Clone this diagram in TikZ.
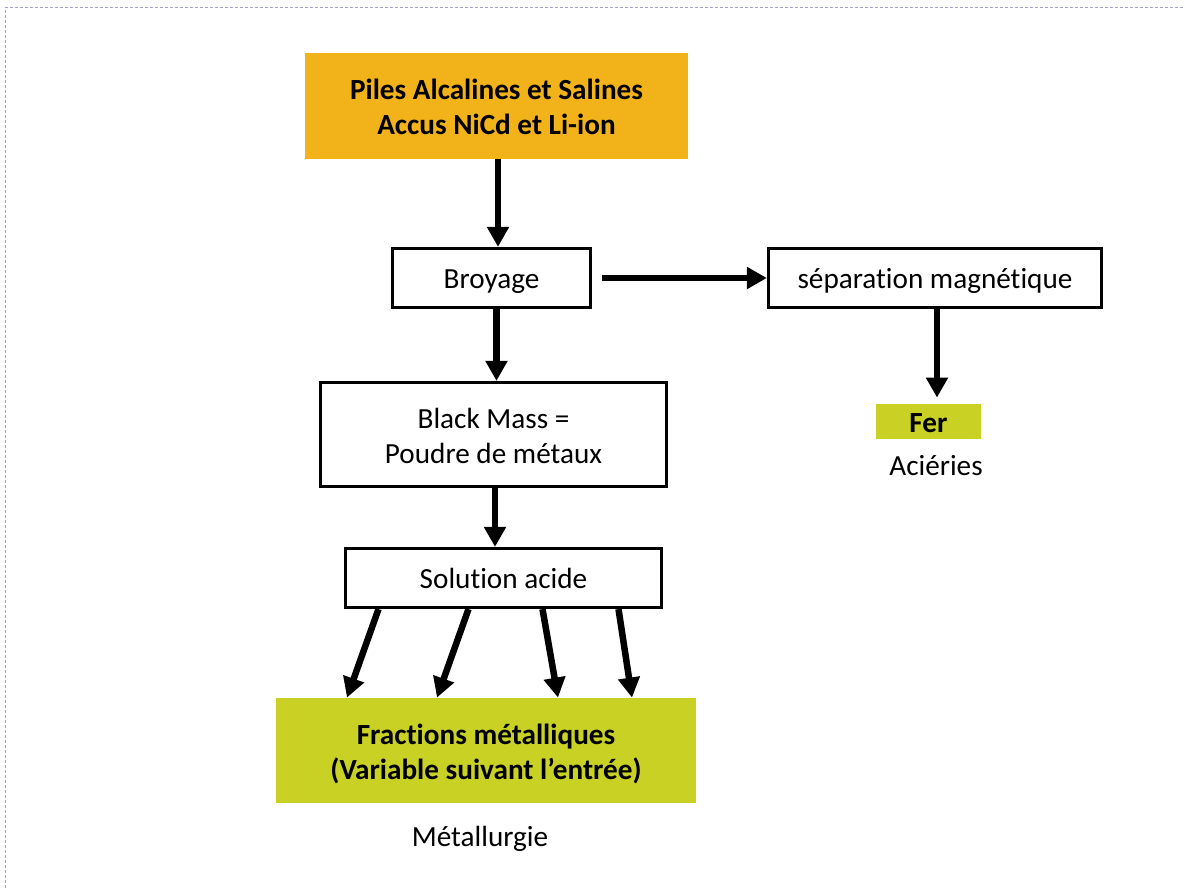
\documentclass[tikz,border=0pt]{standalone}
\usepackage{fontspec}
\setmainfont{Carlito}[Ligatures={NoCommon,NoContextual}]
\usetikzlibrary{arrows.meta}
\definecolor{pileorange}{RGB}{242,179,26}
\definecolor{fergreen}{RGB}{200,209,36}
\definecolor{framelilac}{RGB}{160,160,215}

\begin{document}
\begin{tikzpicture}[x=0.5pt,y=-0.5pt]

                    \tikzset{box/.style = {shape=rectangle,draw,line width=1.6pt,inner sep=0pt,align=center,font=\fontsize{14.6}{17.5}\selectfont}}
                    \tikzset{fillbox/.style = {shape=rectangle,inner sep=0pt,align=center,font=\fontsize{14.6}{17.5}\selectfont\bfseries}}
                    \tikzset{oneline/.style = {text height=12.25pt,text depth=1.75pt}}
                    \tikzset{twolines/.style = {text height=29.5pt,text depth=1pt}}
                    \tikzset{plain/.style = {inner sep=0pt,anchor=base,font=\fontsize{14.6}{17.5}\selectfont}}
                    \tikzset{edge/.style = {-{Triangle[length=10pt,width=10.5pt]},line width=3.25pt}}
                    \useasboundingbox (0,0) rectangle (1185,888);
                    \draw[framelilac,line width=0.5pt,dash pattern=on 1.5pt off 1pt] (5,888) -- (5,8) -- (1185,8);

                    \node[fillbox,twolines,fill=pileorange,minimum width=191.5pt,minimum height=53pt] (piles) at (496.5,106) {Piles Alcalines et Salines\\Accus NiCd et Li-ion};
                    \node[box,oneline,minimum width=99pt,minimum height=29.5pt] (broyage) at (491.5,278) {Broyage};
                    \node[box,oneline,minimum width=166.5pt,minimum height=29.5pt] (sep) at (935,278) {séparation magnétique};
                    \node[fillbox,oneline,fill=fergreen,minimum width=52.5pt,minimum height=17.5pt] (fer) at (928.5,421.5) {Fer};
                    \node[plain] (acieries) at (936,475) {Aciéries};
                    \node[box,twolines,minimum width=173pt,minimum height=52pt] (black) at (493.5,434.5) {Black Mass =\\Poudre de métaux};
                    \node[box,oneline,minimum width=158pt,minimum height=29.5pt] (solution) at (503.5,578) {Solution acide};
                    \node[fillbox,twolines,fill=fergreen,minimum width=210pt,minimum height=52.5pt] (fractions) at (486,750.5) {Fractions métalliques\\(Variable suivant l’entrée)};
                    \node[plain] (metal) at (480,846) {Métallurgie};

                    \draw[edge] ([xshift=0.75pt]piles.south) to ([xshift=0.75pt]piles.south |- broyage.north);
                    \draw[edge] ([xshift=5pt]broyage.east) to (sep.west);
                    \draw[edge] ([xshift=1pt]sep.south) to ([xshift=1pt,yshift=3pt]sep.south |- fer.north);
                    \draw[edge] ([xshift=2.5pt]broyage.south) to ([xshift=2.5pt]broyage.south |- black.north);
                    \draw[edge] ([xshift=0.75pt]black.south) to ([xshift=0.75pt]black.south |- solution.north);
                    \draw[edge] ([xshift=-62.5pt]solution.south) to ([xshift=-69.5pt]fractions.north);
                    \draw[edge] ([xshift=-17.5pt]solution.south) to ([xshift=-24.5pt]fractions.north);
                    \draw[edge] ([xshift=19.5pt]solution.south) to ([xshift=36pt]fractions.north);
                    \draw[edge] ([xshift=57.5pt]solution.south) to ([xshift=73pt]fractions.north);

                \end{tikzpicture}
\end{document}
